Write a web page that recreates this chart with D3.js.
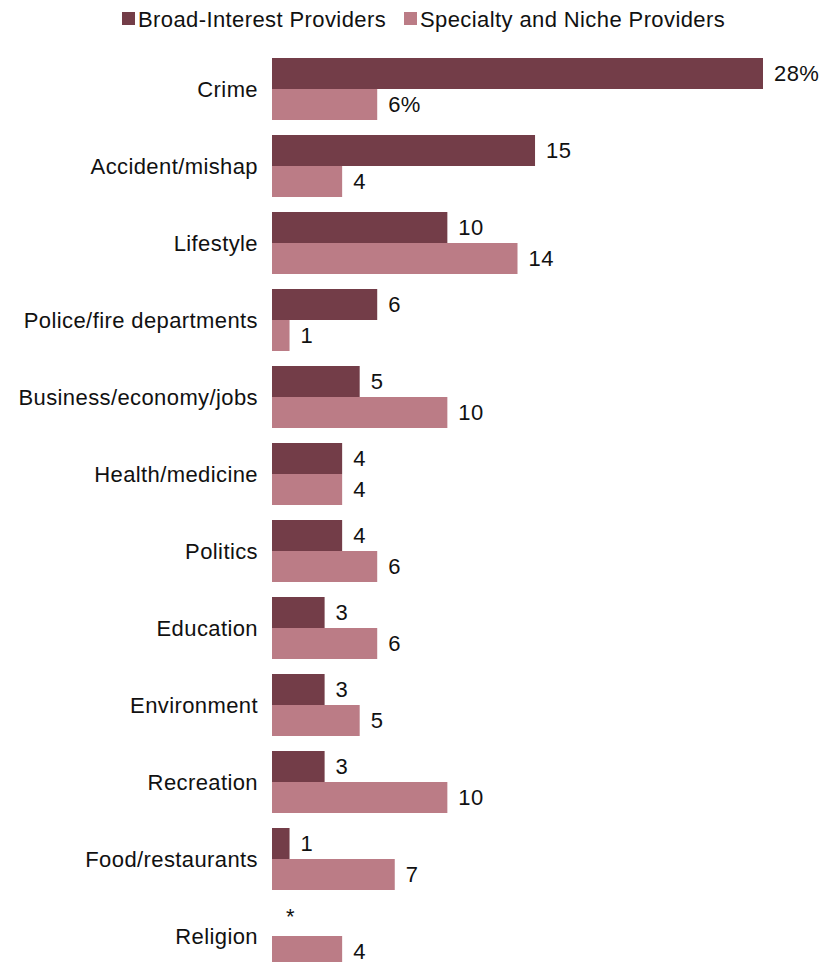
<!DOCTYPE html>
<html>
<head>
<meta charset="utf-8">
<script src="https://cdn.jsdelivr.net/npm/d3@7/dist/d3.min.js"></script>
<style>
  body { margin: 0; background: #fff; }
  svg { display: block; font-family: "Liberation Sans", Arial, sans-serif; }
  .cat { font-size: 22px; letter-spacing: 0.4px; fill: #111; text-anchor: end; dominant-baseline: central; }
  .val { font-size: 22px; letter-spacing: 0.4px; fill: #111; dominant-baseline: central; }
  .legend text { font-size: 22px; letter-spacing: 0.4px; fill: #111; dominant-baseline: central; }
</style>
</head>
<body>
<div id="chart"></div>
<script>
var categories = ["Crime", "Accident/mishap", "Lifestyle", "Police/fire departments",
  "Business/economy/jobs", "Health/medicine", "Politics", "Education",
  "Environment", "Recreation", "Food/restaurants", "Religion"];
var seriesNames = ["Broad-Interest Providers", "Specialty and Niche Providers"];
var broadValues = [28, 15, 10, 6, 5, 4, 4, 3, 3, 3, 1, 0];
var nicheValues = [6, 4, 14, 1, 10, 4, 6, 6, 5, 10, 7, 4];
var broadLabels = ["28%", "15", "10", "6", "5", "4", "4", "3", "3", "3", "1", "*"];
var nicheLabels = ["6%", "4", "14", "1", "10", "4", "6", "6", "5", "10", "7", "4"];
var colors = ["#733d48", "#bb7c86"];

var width = 830, height = 962;

var svg = d3.select("#chart").append("svg")
    .attr("width", width)
    .attr("height", height);

var x = d3.scaleLinear().domain([0, 28]).range([272, 763]);

var y = d3.scaleBand()
    .domain(categories)
    .range([58, 967])
    .paddingInner(15 / 77)
    .paddingOuter(0);

var ySub = d3.scaleBand()
    .domain(seriesNames)
    .range([0, y.bandwidth()]);

var rows = categories.map(function (c, i) {
    return {
        cat: c,
        values: [
            { s: seriesNames[0], v: broadValues[i], label: broadLabels[i] },
            { s: seriesNames[1], v: nicheValues[i], label: nicheLabels[i] }
        ]
    };
});

var groups = svg.selectAll("g.row")
    .data(rows)
    .enter().append("g")
    .attr("class", "row")
    .attr("transform", function (d) { return "translate(0," + y(d.cat) + ")"; });

groups.append("text")
    .attr("class", "cat")
    .attr("x", 258)
    .attr("y", y.bandwidth() / 2)
    .text(function (d) { return d.cat; });

groups.selectAll("rect")
    .data(function (d) { return d.values; })
    .enter().append("rect")
    .attr("x", x(0))
    .attr("y", function (d) { return ySub(d.s); })
    .attr("width", function (d) { return x(d.v) - x(0); })
    .attr("height", ySub.bandwidth())
    .attr("fill", function (d, i) { return colors[i]; });

groups.selectAll("text.val")
    .data(function (d) { return d.values; })
    .enter().append("text")
    .attr("class", "val")
    .attr("x", function (d) { return x(d.v) + (d.v === 0 ? 14 : 11); })
    .attr("y", function (d) { return ySub(d.s) + ySub.bandwidth() / 2 + (d.v === 0 ? -4 : 0); })
    .text(function (d) { return d.label; });

// legend
var legend = svg.append("g").attr("class", "legend");
var legendX = [122, 404];
seriesNames.forEach(function (name, i) {
    legend.append("rect")
        .attr("x", legendX[i])
        .attr("y", 12)
        .attr("width", 13)
        .attr("height", 13)
        .attr("fill", colors[i]);
    legend.append("text")
        .attr("x", legendX[i] + 16)
        .attr("y", 19)
        .text(name);
});
</script>
</body>
</html>
